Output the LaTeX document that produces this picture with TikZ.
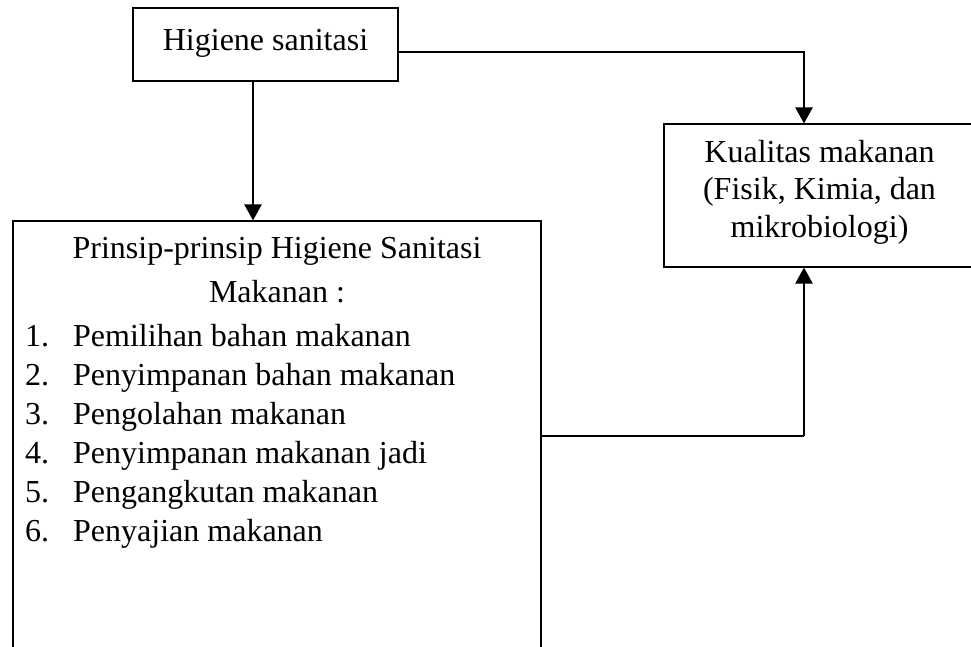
\documentclass[tikz,border=0pt]{standalone}
\usepackage{fontspec}
\setmainfont{Liberation Serif}
\usetikzlibrary{arrows.meta}
\tikzset{
  boxnode/.style={draw=black, line width=1.1pt, rectangle, inner sep=0pt},
  txt/.style={inner sep=0pt, font=\fontsize{32}{38}\selectfont},
  conn/.style={draw=black, line width=2.3pt, -{Triangle[width=17pt,length=16pt]}},
  plain/.style={draw=black, line width=2.3pt}
}
\begin{document}
\begin{tikzpicture}[x=1pt,y=-1pt]
\useasboundingbox (0,0) rectangle (971,646);
\clip (0,0) rectangle (971,646);
\fill[white] (0,0) rectangle (971,646);
% boxes
\node[boxnode, minimum width=265pt, minimum height=73pt] (top) at (265.5,44.5) {};
\node[boxnode, minimum width=528pt, minimum height=479pt] (big) at (277,460.5) {};
\node[boxnode, minimum width=311pt, minimum height=143pt] (kual) at (819.5,195.5) {};
% texts
\node[txt, anchor=base] (t1) at (265.5,50) {Higiene sanitasi};
\node[txt, anchor=base] (b0) at (277,258) {Prinsip-prinsip Higiene Sanitasi};
\node[txt, anchor=base] (b00) at (277,302) {Makanan :};
\node[txt, anchor=base west] (n1) at (25,346) {1.};
\node[txt, anchor=base west] (l1) at (73,346) {Pemilihan bahan makanan};
\node[txt, anchor=base west] (n2) at (25,385) {2.};
\node[txt, anchor=base west] (l2) at (73,385) {Penyimpanan bahan makanan};
\node[txt, anchor=base west] (n3) at (25,424) {3.};
\node[txt, anchor=base west] (l3) at (73,424) {Pengolahan makanan};
\node[txt, anchor=base west] (n4) at (25,463) {4.};
\node[txt, anchor=base west] (l4) at (73,463) {Penyimpanan makanan jadi};
\node[txt, anchor=base west] (n5) at (25,502) {5.};
\node[txt, anchor=base west] (l5) at (73,502) {Pengangkutan makanan};
\node[txt, anchor=base west] (n6) at (25,541) {6.};
\node[txt, anchor=base west] (l6) at (73,541) {Penyajian makanan};
\node[txt, anchor=base] (k1) at (819.5,162) {Kualitas makanan};
\node[txt, anchor=base] (k2) at (819.5,199) {(Fisik, Kimia, dan};
\node[txt, anchor=base] (k3) at (819.5,237) {mikrobiologi)};
% connectors
\coordinate (c1) at (804,436);
\draw[conn] ([xshift=-12.5pt]top.south) -- ([xshift=-24pt]big.north);
\draw[conn] ([yshift=-7.5pt]top.east) -| ([xshift=-15.5pt]kual.north);
\draw[plain] (big.east |- c1) -- (c1);
\draw[conn] (c1) -- ([xshift=-15.5pt]kual.south);
\end{tikzpicture}
\end{document}
